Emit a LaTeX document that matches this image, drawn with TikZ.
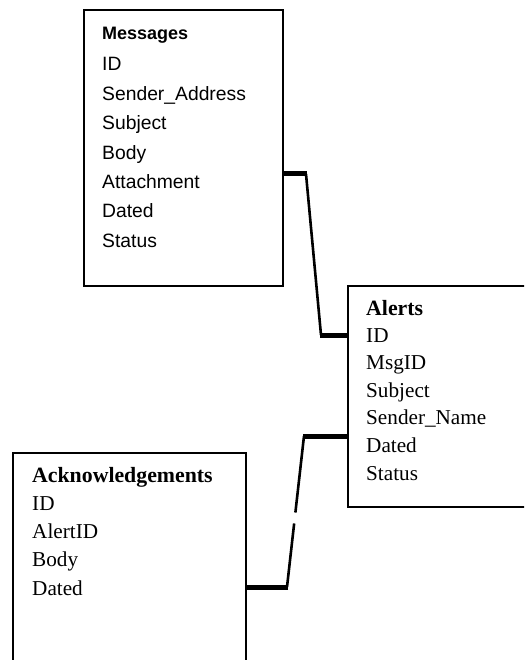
\documentclass[tikz,border=0pt]{standalone}
\usepackage{fontspec}
\setmainfont{Liberation Serif}
\newfontfamily\tablesans{Liberation Sans}
\begin{document}
\begin{tikzpicture}[x=1pt,y=-1pt,
  table/.style={draw,line width=2pt,anchor=north west,inner sep=0pt,
    minimum width=#1},
  field/.style={anchor=base west,inner sep=0pt},
  sansfield/.style={field,font=\tablesans\fontsize{19.3}{22}\selectfont},
  sanshead/.style={field,font=\tablesans\bfseries\fontsize{18}{22}\selectfont},
  seriffield/.style={field,font=\fontsize{21.2}{24}\selectfont},
  serifhead/.style={field,font=\bfseries\fontsize{21.8}{24}\selectfont},
  link/.style={line width=5pt},
  slant/.style={line width=2.6pt}]
\useasboundingbox (0,0) rectangle (524,660);
\clip (0,0) rectangle (524,660);
\fill[white] (0,0) rectangle (524,660);

% table boxes
\node[table=199pt,minimum height=276pt] (msg) at (83,9) {};
\node[table=200pt,minimum height=221pt] (alr) at (347,285) {};
\node[table=233pt,minimum height=230pt] (ack) at (12,452) {};

% Messages fields
\node[sanshead] (mh) at (102,40) {Messages};
\foreach \t [count=\i from 0] in {ID,Sender\_Address,Subject,Body,Attachment,Dated,Status}
  \node[sansfield] (m\i) at (102,71+29.4*\i) {\t};

% Alerts fields
\node[serifhead] (ah) at (366,315) {Alerts};
\foreach \t [count=\i from 0] in {ID,MsgID,Subject,Sender\_Name,Dated,Status}
  \node[seriffield] (a\i) at (366,342+27.6*\i) {\t};

% Acknowledgements fields
\node[serifhead] (kh) at (32,482) {Acknowledgements};
\node[seriffield] (k0) at (32,510) {ID};
\node[seriffield] (k1) at (32,538) {AlertID};
\node[seriffield] (k2) at (32,566) {Body};
\node[seriffield] (k3) at (32,595) {Dated};

% connector end points
\coordinate (p1) at (msg.east |- 0,174);
\coordinate (p2) at (306,174);
\coordinate (p3) at (321,335);
\coordinate (p4) at (alr.west |- 0,335);
\coordinate (q1) at (alr.west |- 0,436);
\coordinate (q2) at (304,436);
\coordinate (q3) at (287,587);
\coordinate (q4) at (ack.east |- 0,587);

% Messages -- Alerts
\draw[link] (p1) -- ([xshift=1pt]p2);
\draw[slant] (p2) -- (p3);
\draw[link] ([xshift=-1pt]p3) -- (p4);

% Alerts -- Acknowledgements
\draw[link] (q1) -- ([xshift=-1pt]q2);
\draw[slant,dash pattern=on 77pt off 11pt on 120pt] (q2) -- (q3);
\draw[link] ([xshift=1pt]q3) -- (q4);
\end{tikzpicture}
\end{document}
